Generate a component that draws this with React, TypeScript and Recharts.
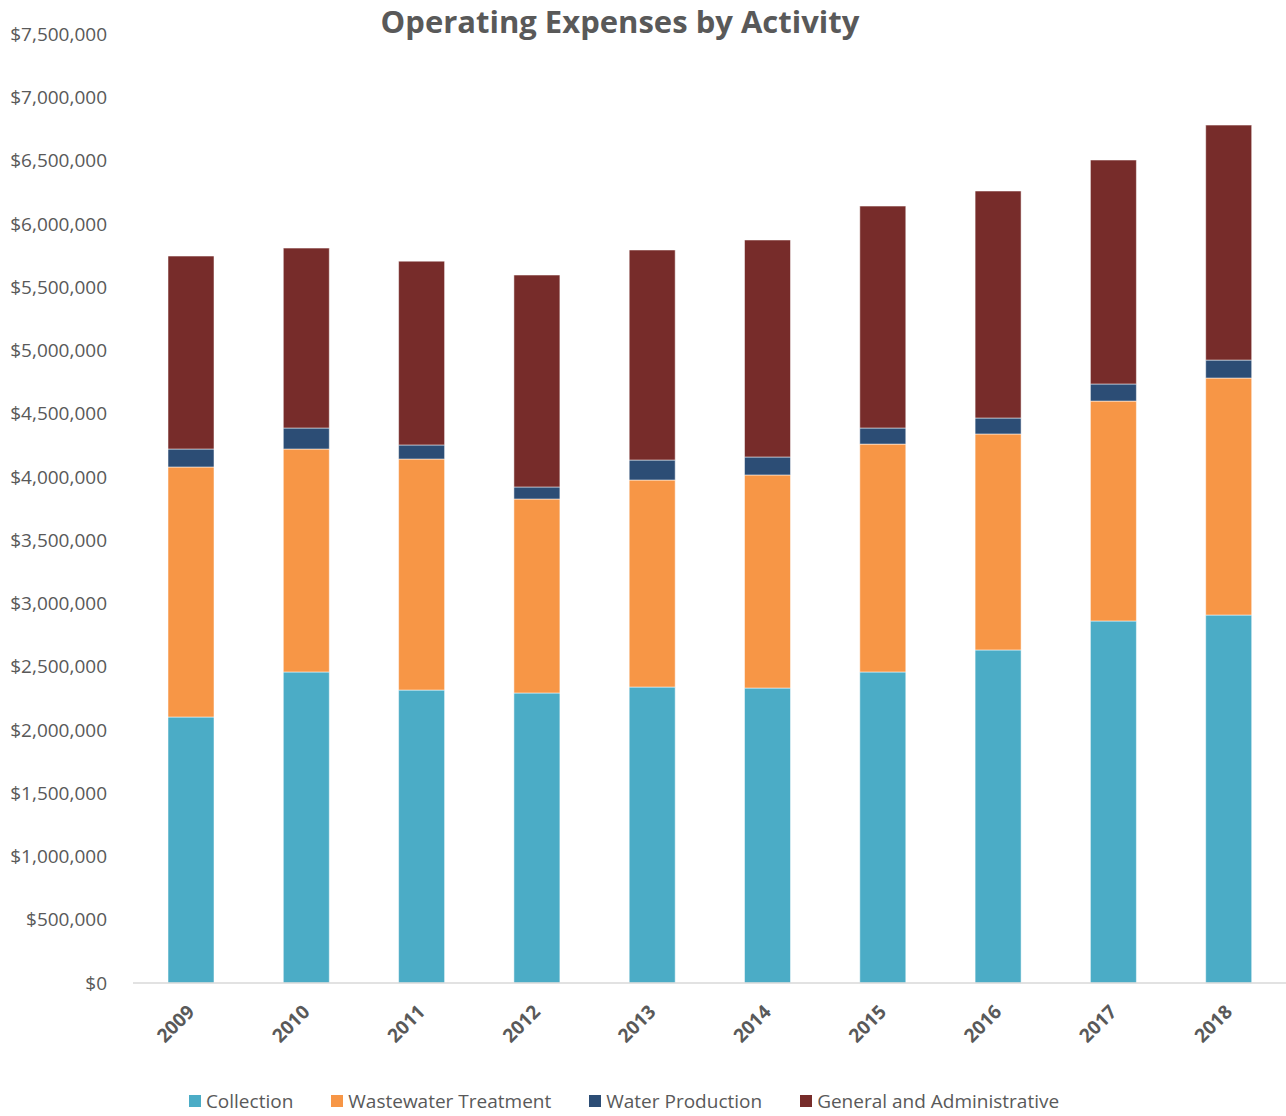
import React from "react";
import { BarChart, Bar, XAxis, YAxis, Legend } from "recharts";

const years = ["2009", "2010", "2011", "2012", "2013", "2014", "2015", "2016", "2017", "2018"];
const collection = [2102000, 2458000, 2315000, 2292000, 2339000, 2331000, 2458000, 2632000, 2861000, 2908000];
const wastewater = [1976000, 1762000, 1826000, 1533000, 1636000, 1684000, 1801000, 1707000, 1738000, 1873000];
const waterProduction = [142000, 166000, 111000, 95000, 158000, 142000, 127000, 126000, 135000, 142000];
const generalAdmin = [1525000, 1422000, 1453000, 1675000, 1660000, 1715000, 1754000, 1794000, 1770000, 1857000];
const yTicks = [0, 500000, 1000000, 1500000, 2000000, 2500000, 3000000, 3500000, 4000000, 4500000, 5000000, 5500000, 6000000, 6500000, 7000000, 7500000];

const series = [
  { key: "collection", name: "Collection", color: "#4BACC6" },
  { key: "wastewater", name: "Wastewater Treatment", color: "#F79646" },
  { key: "water", name: "Water Production", color: "#2C4D75" },
  { key: "admin", name: "General and Administrative", color: "#772C2A" },
];

const data = years.map((year, i) => ({
  year,
  collection: collection[i],
  wastewater: wastewater[i],
  water: waterProduction[i],
  admin: generalAdmin[i],
}));

const FONT = "'Open Sans', 'Noto Sans', sans-serif";
const TEXT = "#595959";

const money = (v: number) => "$" + v.toLocaleString("en-US");

const YearTick = ({ x, y, payload }: any) => (
  <text
    x={x + 5}
    y={y + 22}
    textAnchor="end"
    transform={`rotate(-45, ${x + 5}, ${y + 22})`}
    fill={TEXT}
    fontFamily={FONT}
    fontSize={19}
    fontWeight="bold"
  >
    {payload.value}
  </text>
);

const LegendContent = () => (
  <div style={{ display: "flex", justifyContent: "center", gap: 38, fontFamily: FONT, fontSize: 19, color: TEXT, width: 1248 }}>
    {series.map((s) => (
      <div key={s.key} style={{ display: "flex", alignItems: "center" }}>
        <span style={{ display: "inline-block", width: 12, height: 12, background: s.color, marginRight: 5 }} />
        <span>{s.name}</span>
      </div>
    ))}
  </div>
);

export default function App() {
  return (
    <div style={{ position: "absolute", left: 0, top: 0, width: 1286, height: 1116, background: "#fff" }}>
      <div
        style={{
          position: "absolute",
          top: 0,
          left: 0,
          width: 1240,
          textAlign: "center",
          fontFamily: FONT,
          fontWeight: "bold",
          fontSize: 31,
          color: TEXT,
        }}
      >
        Operating Expenses by Activity
      </div>
      <BarChart
        width={1286}
        height={1116}
        data={data}
        margin={{ top: 34, right: 0, left: 0, bottom: 0 }}
        barSize={46}
      >
        <XAxis
          dataKey="year"
          tick={<YearTick />}
          tickLine={false}
          axisLine={{ stroke: "#D9D9D9", strokeWidth: 1.5 }}
          height={133}
          interval={0}
        />
        <YAxis
          domain={[0, 7500000]}
          ticks={yTicks}
          tickFormatter={money}
          axisLine={false}
          tickLine={false}
          tickSize={0}
          tickMargin={26}
          width={133}
          tick={{ fill: TEXT, fontFamily: FONT, fontSize: 19 }}
          interval={0}
        />
        <Legend
          verticalAlign="middle"
          layout="horizontal"
          align="center"
          content={<LegendContent />}
          wrapperStyle={{ top: 1088, left: 0, width: 1286, height: 28 }}
        />
        {series.map((s) => (
          <Bar
            key={s.key}
            dataKey={s.key}
            name={s.name}
            stackId="a"
            fill={s.color}
            stroke="#ffffff"
            strokeOpacity={0.5}
            strokeWidth={1}
            isAnimationActive={false}
          />
        ))}
      </BarChart>
    </div>
  );
}
